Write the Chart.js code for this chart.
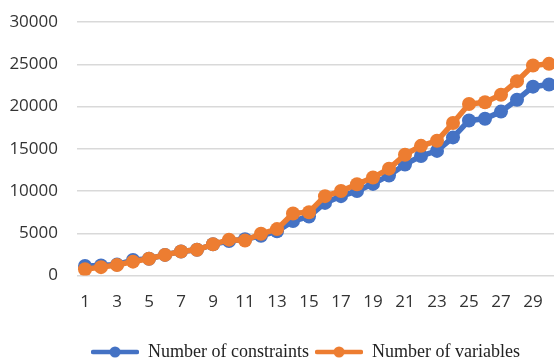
<!DOCTYPE html>
<html>
<head>
<meta charset="utf-8">
<script src="https://cdn.jsdelivr.net/npm/chart.js@4"></script>
<style>
html,body{margin:0;padding:0;background:#fff;overflow:hidden;}
#wrap{position:absolute;left:0;top:0;width:600px;height:371px;}
</style>
</head>
<body>
<div id="wrap"><canvas id="c"></canvas></div>
<script>
const categories = ['1','2','3','4','5','6','7','8','9','10','11','12','13','14','15','16','17','18','19','20','21','22','23','24','25','26','27','28','29','30'];
const constraints = [1150,1200,1300,1850,2000,2450,2850,3050,3700,4100,4300,4700,5250,6450,7000,8600,9400,10000,10850,11850,13150,14150,14750,16350,18350,18550,19400,20800,22350,22600];
const variables = [750,1000,1250,1650,2000,2450,2850,3050,3700,4250,4150,4950,5500,7350,7500,9400,10000,10800,11600,12650,14300,15350,15950,18050,20300,20500,21400,23000,24850,25050];
const yTicks = [0,5000,10000,15000,20000,25000,30000];
const seriesNames = ['Number of constraints','Number of variables'];
const blue = '#4472C4', orange = '#ED7D31';

function marker(color){
  const c = document.createElement('canvas');
  c.width = 48; c.height = 14;
  const x = c.getContext('2d');
  x.strokeStyle = color; x.lineWidth = 4.5; x.lineCap = 'round';
  x.beginPath(); x.moveTo(2,7); x.lineTo(46,7); x.stroke();
  x.fillStyle = color; x.beginPath(); x.arc(24,7,5.5,0,Math.PI*2); x.fill();
  return c;
}

const shiftLegend = {
  id:'shiftLegend',
  afterLayout(chart){ if(chart.legend){ chart.legend.left += 27; chart.legend.right += 27; } }
};

const tickFont = {family:'"Open Sans", sans-serif', size:17};
new Chart(document.getElementById('c'), {
  type:'line',
  data:{
    labels:categories,
    datasets:[
      {label:seriesNames[0], data:constraints, borderColor:blue, backgroundColor:blue, pointBackgroundColor:blue, pointBorderColor:blue, borderWidth:5.5, pointRadius:7, pointBorderWidth:0, tension:0, order:1, pointStyle:'circle'},
      {label:seriesNames[1], data:variables, borderColor:orange, backgroundColor:orange, pointBackgroundColor:orange, pointBorderColor:orange, borderWidth:5.5, pointRadius:7, pointBorderWidth:0, tension:0, order:0, pointStyle:'circle'}
    ]
  },
  options:{
    responsive:true, maintainAspectRatio:false, animation:false,
    layout:{padding:{left:0,right:43,top:22,bottom:0}},
    plugins:{
      tooltip:{enabled:false},
      legend:{
        position:'bottom',
        labels:{
          usePointStyle:true, pointStyleWidth:48, boxHeight:14,
          padding:6, color:'#222',
          font:{family:'"Liberation Serif", "Times New Roman", serif', size:18},
          sort:(a,b)=>a.datasetIndex-b.datasetIndex,
          generateLabels:(chart)=>chart.data.datasets.map((d,i)=>({
            text:d.label, datasetIndex:i, pointStyle:marker(d.borderColor),
            fillStyle:d.borderColor, strokeStyle:d.borderColor, lineWidth:0, hidden:false, fontColor:'#222'
          }))
        }
      }
    },
    scales:{
      x:{
        offset:true,
        afterFit:(s)=>{s.height += 9;},
        grid:{display:false, drawTicks:false},
        border:{display:false},
        ticks:{autoSkip:false, maxRotation:0, padding:16, color:'#333', font:tickFont,
          callback:function(v,i){return i%2===0?this.getLabelForValue(v):'';}}
      },
      y:{
        min:0, max:30000,
        afterBuildTicks:(s)=>{s.ticks = yTicks.map(v=>({value:v}));},
        afterFit:(s)=>{s.width = 77; s.paddingTop = 0; s.paddingBottom = 0;},
        grid:{color:'#d9d9d9', lineWidth:1.5, drawTicks:false},
        border:{display:false},
        ticks:{padding:19, color:'#333', font:tickFont, callback:(v)=>String(v)}
      }
    }
  },
  plugins:[shiftLegend]
});
</script>
</body>
</html>
